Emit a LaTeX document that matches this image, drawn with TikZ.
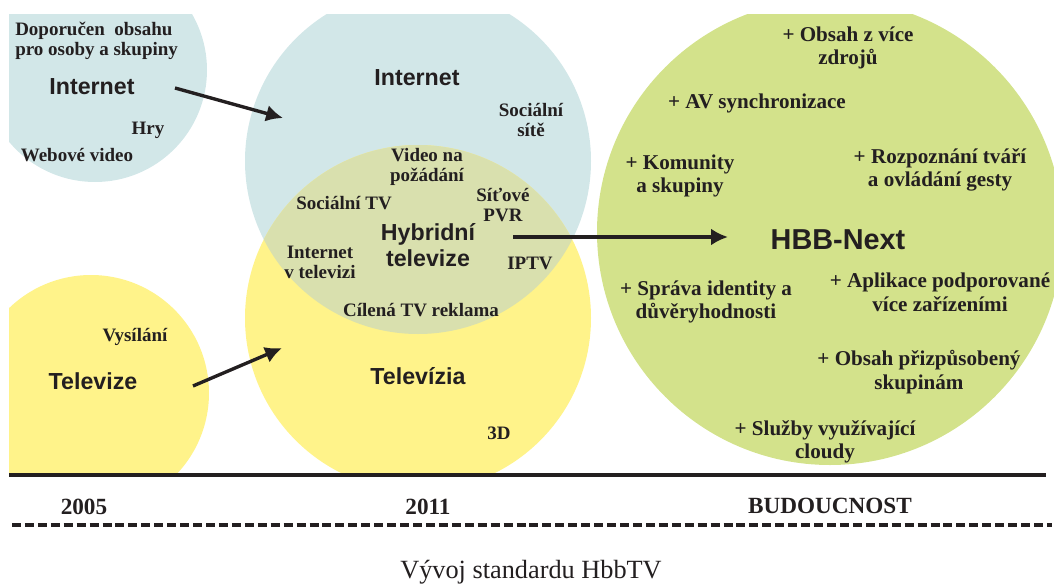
\documentclass[tikz,border=0pt]{standalone}
\usepackage{fontspec}
\setmainfont{Liberation Serif}
\setsansfont{Liberation Sans}
\usetikzlibrary{arrows.meta, positioning}
\definecolor{inkblack}{RGB}{35,31,32}
\definecolor{netblue}{RGB}{210,231,232}
\definecolor{tvyellow}{RGB}{255,243,138}
\definecolor{hbbgreen}{RGB}{211,226,139}
\definecolor{hybridmix}{RGB}{217,224,174}

\begin{document}
\begin{tikzpicture}[
    x=0.025cm, y=-0.025cm,
    every node/.style={inner sep=0pt, align=center, text=inkblack},
    feat/.style={font=\bfseries\fontsize{13.5}{14.3}\selectfont},
    plus/.style={font=\bfseries\fontsize{15}{16.8}\selectfont},
    title/.style={font=\sffamily\bfseries\fontsize{16.5}{18.6}\selectfont},
    year/.style={font=\bfseries\fontsize{16.5}{18}\selectfont},
    arrow/.style={-{Latex[length=12pt,width=12pt]}, line width=2.4pt, draw=inkblack}
]
\useasboundingbox (0,0) rectangle (1054,585);

\begin{scope}
\clip (9,14) rectangle (1054,473);
\fill[netblue] (95,70) circle (112);
\fill[tvyellow] (91,393) circle (118);
\fill[netblue] (418,161) circle (173);
\fill[tvyellow] (418,318) circle (173);
\begin{scope}
\clip (418,161) circle (173);
\fill[hybridmix] (418,318) circle (173);
\end{scope}
\fill[hbbgreen] (830,232) circle (233);
\end{scope}

\node[feat, align=left, anchor=west] (recom) at (15,41) {Doporučen\ \ obsahu\\pro osoby a skupiny};
\node[title] (net05) at (92,87) {Internet};
\node[feat] (hry) at (148,130) {Hry};
\node[feat] (webvid) at (77,155) {Webové video};
\node[feat] (vysil) at (135,337) {Vysílání};
\node[title] (tv05) at (93,381) {Televize};

\node[title] (net11) at (417,78) {Internet};
\node[feat] (social) at (531,120) {Sociální\\sítě};
\node[feat] (vod) at (427,167) {Video na\\požádání};
\node[feat] (socialtv) at (344,203) {Sociální TV};
\node[feat] (pvr) at (503,205) {Síťové\\PVR};
\node[title] (hybrid) at (428,245) {Hybridní\\televize};
\node[feat] (inettv) at (320,262) {Internet\\v televizi};
\node[feat] (iptv) at (530,263) {IPTV};
\node[feat] (adv) at (421,310) {Cílená TV reklama};
\node[title] (tv11) at (418,376) {Televízia};
\node[feat] (threed) at (499,433) {3D};

\node[title, font=\sffamily\bfseries\fontsize{20.5}{22}\selectfont] (hbb) at (838,240) {HBB-Next};
\node[plus] (multisrc) at (848,48) {+ Obsah z více\\zdrojů};
\node[plus] (avsync) at (757,103) {+ AV synchronizace};
\node[plus] (comm) at (680,176) {+ Komunity\\a skupiny};
\node[plus] (face) at (940,170) {+ Rozpoznání tváří\\a ovládání gesty};
\node[plus] (ident) at (706,302) {+ Správa identity a\\důvěryhodnosti};
\node[plus] (multidev) at (940,292) {+ Aplikace podporované\\více zařízeními};
\node[plus] (groups) at (919,372) {+ Obsah přizpůsobený\\skupinám};
\node[plus] (cloud) at (825,442) {+ Služby využívající\\cloudy};

\coordinate (a1s) at (175,88);
\coordinate (a1e) at (283,118);
\coordinate (a2s) at (193,386);
\coordinate (a2e) at (282,348);
\coordinate (a3s) at (513,237);
\coordinate (a3e) at (728,237);
\draw[arrow] (a1s) -- (a1e);
\draw[arrow] (a2s) -- (a2e);
\draw[arrow] (a3s) -- (a3e);

\coordinate (axisL) at (9,475);
\coordinate (axisR) at (1046,475);
\draw[inkblack, line width=3pt] (axisL) -- (axisR);
\node[year] (y2005) at (84,507) {2005};
\node[year] (y2011) at (428,507) {2011};
\node[year] (future) at (830,506) {BUDOUCNOST};
\coordinate (dashL) at (12,525);
\coordinate (dashR) at (1052,525);
\draw[inkblack, line width=2.2pt, dash pattern=on 6.4pt off 2.8pt] (dashL) -- (dashR);

\node[font=\fontsize{18.7}{20}\selectfont] (caption) at (531,572) {Vývoj standardu HbbTV};
\end{tikzpicture}
\end{document}
